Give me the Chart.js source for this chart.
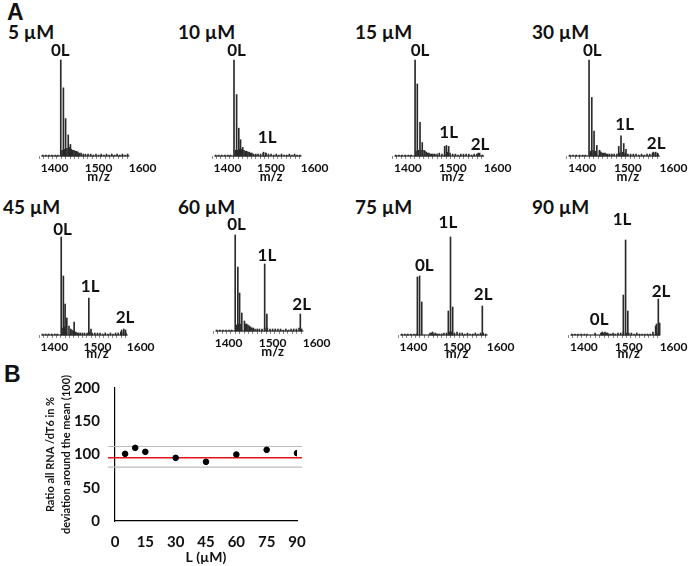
<!DOCTYPE html>
<html>
<head>
<meta charset="utf-8">
<script src="https://cdn.jsdelivr.net/npm/chart.js@4.4.0/dist/chart.umd.min.js"></script>
<style>
  html, body { margin: 0; padding: 0; background: #fff; }
  #page { position: relative; width: 699px; height: 566px; overflow: hidden; font-family: Lato, sans-serif; font-weight: bold; color: #111; }
  #page canvas { position: absolute; }
  .conc { position: absolute; white-space: nowrap; font-size: 19px; line-height: 22px; }
  .letter { position: absolute; font-family: "Liberation Sans", Arial, sans-serif; font-size: 23px; line-height: 24px; }
</style>
</head>
<body>
<div id="page">
  <div class="letter" style="left:7px;top:0px">A</div>
  <div class="letter" style="left:4px;top:362px">B</div>
</div>
<script>
//Spectrum panel titles
const concLabels = ['5 µM', '10 µM', '15 µM', '30 µM', '45 µM', '60 µM', '75 µM', '90 µM'];

//Main peaks: [m/z, relative intensity %]
const peaks5 = [[1414, 100], [1417, 6], [1420, 71], [1423, 7], [1425, 39], [1428, 8], [1431, 22], [1434, 9], [1436, 12]];
const peaks10 = [[1415, 100], [1418, 6], [1421, 64], [1423, 6], [1426, 29], [1428, 7], [1430, 17], [1433, 7], [1435, 9], [1483, 4], [1488, 3]];
const peaks15 = [[1416, 100], [1418, 5], [1421, 75], [1424, 6], [1427, 35], [1429, 6], [1432, 14], [1436, 6], [1482, 10], [1486, 11], [1491, 10], [1557, 3]];
const peaks30 = [[1415, 100], [1418, 5], [1421, 61], [1424, 6], [1426, 26], [1429, 5], [1432, 11], [1438, 6], [1480, 10], [1485, 21], [1491, 13], [1496, 7], [1556, 4], [1561, 4], [1565, 3]];
const peaks45 = [[1416, 98], [1418, 7], [1421, 59], [1423, 8], [1425, 31], [1427, 8], [1429, 17], [1434, 9], [1446, 13], [1480, 37], [1485, 6], [1556, 5], [1561, 6], [1565, 5]];
const peaks60 = [[1415, 96], [1418, 6], [1421, 64], [1423, 7], [1425, 38], [1428, 7], [1430, 18], [1436, 10], [1482, 67], [1487, 17], [1563, 17]];
const peaks75 = [[1409, 58], [1414, 59], [1419, 33], [1444, 3], [1480, 24], [1485, 98], [1490, 28], [1558, 29]];
const peaks90 = [[1425, 2], [1440, 2], [1488, 40], [1493, 95], [1498, 24], [1562, 11], [1566, 36], [1569, 12]];

//Baseline noise: shared m/z positions, one height list per panel
const grassMz = [1373, 1380, 1387, 1394, 1401, 1407, 1438, 1441, 1444, 1447, 1450, 1453, 1456, 1460, 1465, 1470, 1476, 1482, 1488, 1494, 1500, 1506, 1512, 1518, 1524, 1530, 1536, 1542, 1548, 1554, 1560, 1566];
const grass5 = [1, 1, 1, 1, 1, 1, 7, 6, 6, 5, 5, 4, 3, 3, 2, 2, 2, 2, 1, 2, 1, 2, 1, 2, 1, 2, 1, 2, 1, 2, 1, 2];
const grass10 = [1, 1, 1, 1, 1, 1, 6, 5, 5, 4, 4, 3, 3, 2, 2, 2, 2, 3, 3, 2, 2, 1, 2, 1, 2, 1, 1, 2, 1, 2, 1, 1];
const grass15 = [1, 1, 1, 1, 1, 1, 5, 4, 3, 3, 2, 2, 2, 2, 2, 3, 2, 2, 4, 3, 2, 2, 1, 2, 2, 2, 2, 1, 2, 2, 3, 1];
const grass30 = [1, 1, 1, 1, 1, 1, 5, 4, 3, 3, 3, 2, 2, 2, 2, 2, 2, 3, 4, 3, 2, 2, 2, 2, 1, 2, 1, 2, 2, 3, 3, 2];
const grass45 = [1, 1, 1, 1, 1, 1, 6, 5, 4, 3, 3, 2, 2, 2, 2, 2, 2, 3, 2, 2, 2, 2, 1, 2, 1, 2, 1, 2, 2, 3, 3, 2];
const grass60 = [1, 1, 1, 1, 1, 1, 7, 7, 6, 5, 4, 3, 3, 2, 2, 2, 2, 3, 3, 2, 2, 2, 2, 2, 1, 2, 1, 2, 2, 2, 3, 2];
const grass75 = [1, 1, 1, 1, 1, 1, 2, 2, 1, 1, 2, 1, 1, 1, 1, 2, 2, 3, 3, 2, 3, 2, 2, 1, 2, 1, 1, 2, 1, 2, 2, 1];
const grass90 = [1, 1, 1, 1, 1, 1, 2, 3, 2, 3, 2, 2, 1, 1, 2, 1, 2, 2, 3, 2, 2, 2, 1, 2, 1, 1, 1, 1, 1, 3, 9, 2];

//Peak tags: [text, m/z, intensity level]
const tags5 = [['0L', 1413, 110]];
const tags10 = [['0L', 1421, 110], ['1L', 1491, 19]];
const tags15 = [['0L', 1427, 110], ['1L', 1491, 24], ['2L', 1561, 12]];
const tags30 = [['0L', 1422, 110], ['1L', 1493, 33], ['2L', 1562, 13]];
const tags45 = [['0L', 1419, 105], ['1L', 1483, 48], ['2L', 1564, 17]];
const tags60 = [['0L', 1418, 106], ['1L', 1487, 75], ['2L', 1566, 26]];
const tags75 = [['0L', 1425, 69], ['1L', 1479, 112], ['2L', 1560, 40]];
const tags90 = [['0L', 1434, 15], ['1L', 1485, 115], ['2L', 1572, 43]];

//m/z tick labels
const mzTicks = [1400, 1500, 1600];

//Panel B
const ligandConc = [5, 10, 15, 30, 45, 60, 75, 90];
const ratioPct = [101, 110, 104, 95, 89, 100, 107, 102];
const meanLevel = 95;
const upperLevel = 112;
const lowerLevel = 81;

//Panel placement on the page (pixels)
const panels = [
  { x0: 39, ppm: 0.46, yb: 156, yt: 60, tx: 8, ty: 32, dz: 21 },
  { x0: 212, ppm: 0.455, yb: 156, yt: 60, tx: 178, ty: 32, dz: 21 },
  { x0: 392, ppm: 0.47, yb: 156, yt: 60, tx: 355, ty: 32, dz: 21 },
  { x0: 566, ppm: 0.478, yb: 156, yt: 60, tx: 532, ty: 32, dz: 21 },
  { x0: 39, ppm: 0.453, yb: 335, yt: 235, tx: 3, ty: 207, dz: 19 },
  { x0: 213, ppm: 0.463, yb: 331, yt: 231, tx: 178, ty: 207, dz: 21 },
  { x0: 398, ppm: 0.458, yb: 335, yt: 235, tx: 355, ty: 207, dz: 19 },
  { x0: 568, ppm: 0.47, yb: 335, yt: 235, tx: 532, ty: 207, dz: 19 }
];

const page = document.getElementById('page');
const txt = '#111';

//Peak tags and m/z caption
const peakTags = {
  id: 'peakTags',
  afterDraw(chart, args, opts) {
    const { ctx, chartArea, scales: { x, y } } = chart;
    ctx.save();
    ctx.fillStyle = txt;
    ctx.textAlign = 'center';
    ctx.textBaseline = 'middle';
    ctx.font = 'bold 17px Lato';
    (opts.items || []).forEach(([t, mz, h]) => ctx.fillText(t, x.getPixelForValue(mz), y.getPixelForValue(h)));
    ctx.font = 'bold 13px Lato';
    ctx.fillText('m/z', x.getPixelForValue(1500), chartArea.bottom + opts.dz);
    ctx.restore();
  }
};

//Minor ticks along the m/z axis
const minorTicks = [];
for (let v = 1370; v <= 1570; v += 10) minorTicks.push(v);

function drawSpectrum(i, peaks, grass, tags) {
  const g = panels[i];
  const lab = document.createElement('div');
  lab.className = 'conc';
  lab.textContent = concLabels[i];
  lab.style.left = g.tx + 'px';
  lab.style.top = (g.ty - 11) + 'px';
  page.appendChild(lab);

  const cv = document.createElement('canvas');
  cv.width = Math.round(230 * g.ppm) + 34;
  cv.height = g.yb - g.yt + 60;
  cv.style.left = (g.x0 - 12) + 'px';
  cv.style.top = (g.yt - 30) + 'px';
  page.appendChild(cv);

  const sticks = peaks.concat(grassMz.map((mz, k) => [mz, grass[k]]))
    .sort((a, b) => a[0] - b[0])
    .map(([x, y]) => ({ x, y }));

  new Chart(cv, {
    type: 'bar',
    data: {
      datasets: [
        { data: sticks, backgroundColor: '#2a2a2a', barThickness: 1, borderWidth: 0, clip: false },
        { type: 'line', data: [{ x: 1370, y: 0 }, { x: 1570, y: 0 }], borderColor: '#000', borderWidth: 1, pointRadius: 0, clip: false }
      ]
    },
    options: {
      responsive: false,
      animation: false,
      devicePixelRatio: 1,
      layout: { padding: { left: 12, right: 22, top: 30, bottom: 0 } },
      plugins: { legend: { display: false }, tooltip: { enabled: false }, peakTags: { items: tags, dz: g.dz } },
      scales: {
        x: {
          type: 'linear', min: 1370, max: 1600,
          afterBuildTicks: s => { s.ticks = minorTicks.concat([1600]).map(v => ({ value: v })); },
          afterFit: s => { s.height = 30; s.paddingLeft = 0; s.paddingRight = 0; },
          grid: { drawOnChartArea: false, tickLength: 3, tickColor: c => (c.tick && c.tick.value > 1570) ? 'rgba(0,0,0,0)' : '#8a8a8a' },
          border: { display: false },
          ticks: {
            autoSkip: false, maxRotation: 0, minRotation: 0, padding: 2, color: txt,
            font: { family: 'Lato', weight: 'bold', size: 12 },
            callback: v => mzTicks.includes(v) ? String(v) : ''
          }
        },
        y: { display: false, min: 0, max: 100 }
      }
    },
    plugins: [peakTags]
  });
}

function drawRatio() {
  const cv = document.createElement('canvas');
  cv.width = 320;
  cv.height = 196;
  cv.style.left = '0px';
  cv.style.top = '370px';
  page.appendChild(cv);

  const level = v => [{ x: -3.5, y: v }, { x: 92.5, y: v }];

  new Chart(cv, {
    type: 'scatter',
    data: {
      datasets: [
        { data: ligandConc.map((c, k) => ({ x: c, y: ratioPct[k] })), backgroundColor: '#000', borderColor: '#000', pointRadius: 2.8 },
        { type: 'line', data: level(meanLevel), borderColor: '#e8141c', borderWidth: 1.5, pointRadius: 0, clip: false },
        { type: 'line', data: level(upperLevel), borderColor: '#bdbdbd', borderWidth: 1.2, pointRadius: 0, clip: false },
        { type: 'line', data: level(lowerLevel), borderColor: '#bdbdbd', borderWidth: 1.2, pointRadius: 0, clip: false }
      ]
    },
    options: {
      responsive: false,
      animation: false,
      devicePixelRatio: 1,
      layout: { padding: { left: 0, right: 23, top: 18, bottom: 0 } },
      plugins: { legend: { display: false }, tooltip: { enabled: false } },
      scales: {
        x: {
          min: 0, max: 90,
          afterFit: s => { s.height = 45; s.paddingLeft = 0; s.paddingRight = 0; },
          grid: { display: false, drawTicks: false },
          border: { display: true, color: '#000', width: 1.2 },
          ticks: { stepSize: 15, padding: 12, maxRotation: 0, color: txt, font: { family: 'Lato', weight: 'bold', size: 15 } },
          title: { display: true, text: 'L (µM)', color: txt, font: { family: 'Lato', weight: 'bold', size: 14 }, padding: { top: 0, bottom: 0 } }
        },
        y: {
          min: 0, max: 200,
          afterFit: s => { s.width = 115; s.paddingTop = 0; s.paddingBottom = 0; },
          grid: { display: false, drawTicks: false },
          border: { display: true, color: '#000', width: 1.2 },
          ticks: { stepSize: 50, padding: 15, color: txt, font: { family: 'Lato', weight: 'bold', size: 15 } },
          title: {
            display: true,
            text: ['Ratio all RNA /dT6 in %', 'deviation around the mean (100)'],
            color: txt,
            font: { family: 'Lato', weight: 'bold', size: 11, lineHeight: 1.5 },
            padding: { top: 42, bottom: 0 }
          }
        }
      }
    }
  });
}

function drawAll() {
  drawSpectrum(0, peaks5, grass5, tags5);
  drawSpectrum(1, peaks10, grass10, tags10);
  drawSpectrum(2, peaks15, grass15, tags15);
  drawSpectrum(3, peaks30, grass30, tags30);
  drawSpectrum(4, peaks45, grass45, tags45);
  drawSpectrum(5, peaks60, grass60, tags60);
  drawSpectrum(6, peaks75, grass75, tags75);
  drawSpectrum(7, peaks90, grass90, tags90);
  drawRatio();
}

if (document.fonts && document.fonts.load) {
  document.fonts.load('bold 12px Lato').then(drawAll, drawAll);
} else {
  drawAll();
}
</script>
</body>
</html>
